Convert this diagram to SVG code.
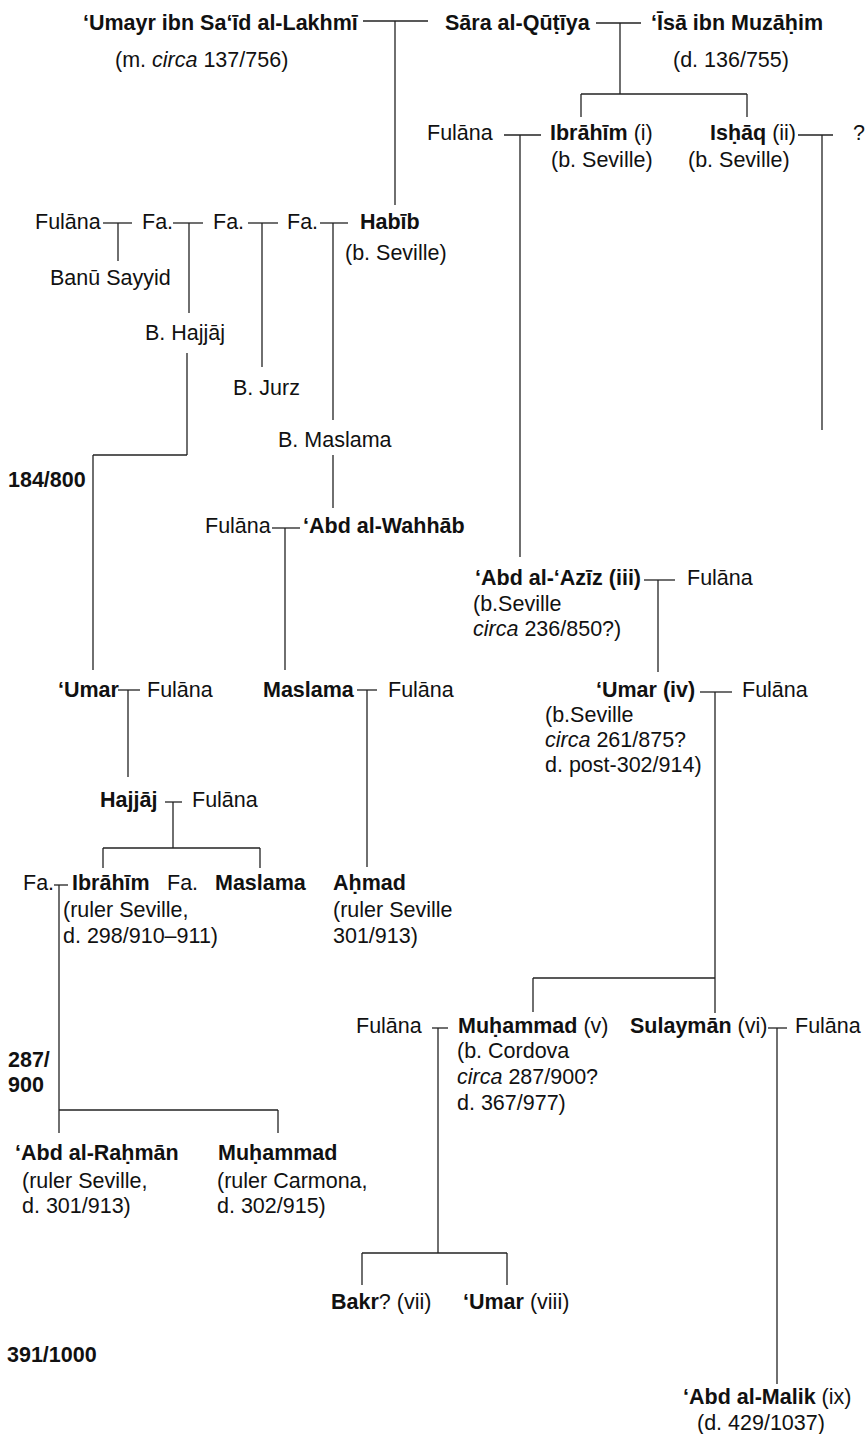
<svg xmlns="http://www.w3.org/2000/svg" width="866" height="1434" viewBox="0 0 866 1434">
<style>
text{font-family:"Liberation Sans",Arial,Helvetica,sans-serif;font-size:21.5px;fill:#111}
.b{font-weight:bold}
.i{font-style:italic}
#connectors line{stroke:#222;stroke-width:1.3;fill:none}
</style>
<rect width="866" height="1434" fill="#fff"/>
<g id="connectors">
<line x1="363" y1="21" x2="428" y2="21"/><line x1="395" y1="21" x2="395" y2="205"/>
<line x1="596" y1="23" x2="641" y2="23"/><line x1="620" y1="23" x2="620" y2="94"/>
<line x1="581" y1="94" x2="747" y2="94"/><line x1="581" y1="94" x2="581" y2="117"/><line x1="747" y1="94" x2="747" y2="117"/>
<line x1="504" y1="135" x2="541" y2="135"/><line x1="520" y1="135" x2="520" y2="557"/>
<line x1="798" y1="135" x2="833" y2="135"/><line x1="822" y1="135" x2="822" y2="430"/>
<line x1="103" y1="223" x2="132" y2="223"/><line x1="118" y1="223" x2="118" y2="261"/>
<line x1="173" y1="223" x2="203" y2="223"/><line x1="189" y1="223" x2="189" y2="313"/>
<line x1="248" y1="223" x2="278" y2="223"/><line x1="262" y1="223" x2="262" y2="367"/>
<line x1="320" y1="223" x2="348" y2="223"/><line x1="333" y1="223" x2="333" y2="420"/>
<line x1="187" y1="353" x2="187" y2="455"/><line x1="93" y1="455" x2="187" y2="455"/><line x1="93" y1="455" x2="93" y2="670"/>
<line x1="333" y1="455" x2="333" y2="508"/>
<line x1="272" y1="528" x2="300" y2="528"/><line x1="285" y1="528" x2="285" y2="670"/>
<line x1="644" y1="580" x2="675" y2="580"/><line x1="658" y1="580" x2="658" y2="672"/>
<line x1="118" y1="690" x2="140" y2="690"/><line x1="128" y1="690" x2="128" y2="777"/>
<line x1="357" y1="690" x2="377" y2="690"/><line x1="367" y1="690" x2="367" y2="867"/>
<line x1="700" y1="692" x2="732" y2="692"/><line x1="715" y1="692" x2="715" y2="1013"/>
<line x1="533" y1="978" x2="715" y2="978"/><line x1="533" y1="978" x2="533" y2="1012"/>
<line x1="165" y1="802" x2="182" y2="802"/><line x1="173" y1="802" x2="173" y2="848"/>
<line x1="103" y1="848" x2="260" y2="848"/><line x1="103" y1="848" x2="103" y2="868"/><line x1="260" y1="848" x2="260" y2="868"/>
<line x1="54" y1="885" x2="68" y2="885"/><line x1="59" y1="885" x2="59" y2="1133"/>
<line x1="59" y1="1110" x2="278" y2="1110"/><line x1="278" y1="1110" x2="278" y2="1133"/>
<line x1="432" y1="1028" x2="448" y2="1028"/><line x1="438" y1="1028" x2="438" y2="1253"/>
<line x1="362" y1="1253" x2="507" y2="1253"/><line x1="362" y1="1253" x2="362" y2="1285"/><line x1="507" y1="1253" x2="507" y2="1285"/>
<line x1="768" y1="1028" x2="787" y2="1028"/><line x1="777" y1="1028" x2="777" y2="1384"/>
</g>
<g id="dates">
<text class="b" x="8" y="487">184/800</text>
<text class="b" x="8" y="1067">287/</text>
<text class="b" x="8" y="1092">900</text>
<text class="b" x="7" y="1362">391/1000</text>
</g>
<g id="umayr"><text class="b" x="83" y="30">‘Umayr ibn Sa‘īd al-Lakhmī</text><text x="115" y="67">(m. <tspan class="i">circa</tspan> 137/756)</text></g>
<g id="sara"><text class="b" x="445" y="30">Sāra al-Qūṭīya</text></g>
<g id="isa"><text class="b" x="651" y="30">‘Īsā ibn Muzāḥim</text><text x="673" y="67">(d. 136/755)</text></g>
<g id="fulana-ibrahim-i"><text x="427" y="140">Fulāna</text></g>
<g id="ibrahim-i"><text x="550" y="140"><tspan class="b">Ibrāhīm</tspan> (i)</text><text x="551" y="167">(b. Seville)</text></g>
<g id="ishaq"><text x="710" y="140"><tspan class="b">Isḥāq</tspan> (ii)</text><text x="688" y="167">(b. Seville)</text></g>
<g id="unknown"><text x="853" y="140">?</text></g>
<g id="fulana-1"><text x="35" y="229">Fulāna</text></g>
<g id="fa-1"><text x="142" y="229">Fa.</text></g>
<g id="fa-2"><text x="213" y="229">Fa.</text></g>
<g id="fa-3"><text x="287" y="229">Fa.</text></g>
<g id="habib"><text class="b" x="360" y="229">Habīb</text><text x="345" y="260">(b. Seville)</text></g>
<g id="banu-sayyid"><text x="50" y="285">Banū Sayyid</text></g>
<g id="b-hajjaj"><text x="145" y="340">B. Hajjāj</text></g>
<g id="b-jurz"><text x="233" y="395">B. Jurz</text></g>
<g id="b-maslama"><text x="278" y="447">B. Maslama</text></g>
<g id="fulana-wahhab"><text x="205" y="533">Fulāna</text></g>
<g id="abd-al-wahhab"><text class="b" x="303" y="533">‘Abd al-Wahhāb</text></g>
<g id="abd-al-aziz"><text class="b" x="475" y="585">‘Abd al-‘Azīz (iii)</text><text x="473" y="611">(b.Seville</text><text x="473" y="636"><tspan class="i">circa</tspan> 236/850?)</text></g>
<g id="fulana-aziz"><text x="687" y="585">Fulāna</text></g>
<g id="umar"><text class="b" x="58" y="697">‘Umar</text></g>
<g id="fulana-umar"><text x="147" y="697">Fulāna</text></g>
<g id="maslama"><text class="b" x="263" y="697">Maslama</text></g>
<g id="fulana-maslama"><text x="388" y="697">Fulāna</text></g>
<g id="umar-iv"><text class="b" x="596" y="697">‘Umar (iv)</text><text x="545" y="722">(b.Seville</text><text x="545" y="747"><tspan class="i">circa</tspan> 261/875?</text><text x="545" y="772">d. post-302/914)</text></g>
<g id="fulana-umar-iv"><text x="742" y="697">Fulāna</text></g>
<g id="hajjaj"><text class="b" x="100" y="807">Hajjāj</text></g>
<g id="fulana-hajjaj"><text x="192" y="807">Fulāna</text></g>
<g id="fa-ibrahim"><text x="23" y="890">Fa.</text></g>
<g id="ibrahim"><text class="b" x="72" y="890">Ibrāhīm</text><text x="63" y="917">(ruler Seville,</text><text x="63" y="943">d. 298/910–911)</text></g>
<g id="fa-maslama"><text x="167" y="890">Fa.</text></g>
<g id="maslama-2"><text class="b" x="215" y="890">Maslama</text></g>
<g id="ahmad"><text class="b" x="333" y="890">Aḥmad</text><text x="333" y="917">(ruler Seville</text><text x="333" y="943">301/913)</text></g>
<g id="fulana-muhammad"><text x="356" y="1033">Fulāna</text></g>
<g id="muhammad-v"><text x="458" y="1033"><tspan class="b">Muḥammad</tspan> (v)</text><text x="457" y="1058">(b. Cordova</text><text x="457" y="1084"><tspan class="i">circa</tspan> 287/900?</text><text x="457" y="1110">d. 367/977)</text></g>
<g id="sulayman"><text x="630" y="1033"><tspan class="b">Sulaymān</tspan> (vi)</text></g>
<g id="fulana-sulayman"><text x="795" y="1033">Fulāna</text></g>
<g id="abd-al-rahman"><text class="b" x="15" y="1160">‘Abd al-Raḥmān</text><text x="22" y="1188">(ruler Seville,</text><text x="22" y="1213">d. 301/913)</text></g>
<g id="muhammad"><text class="b" x="218" y="1160">Muḥammad</text><text x="217" y="1188">(ruler Carmona,</text><text x="217" y="1213">d. 302/915)</text></g>
<g id="bakr"><text x="331" y="1309"><tspan class="b">Bakr</tspan>? (vii)</text></g>
<g id="umar-viii"><text x="463" y="1309"><tspan class="b">‘Umar</tspan> (viii)</text></g>
<g id="abd-al-malik"><text x="683" y="1404"><tspan class="b">‘Abd al-Malik</tspan> (ix)</text><text x="697" y="1430">(d. 429/1037)</text></g>
</svg>
